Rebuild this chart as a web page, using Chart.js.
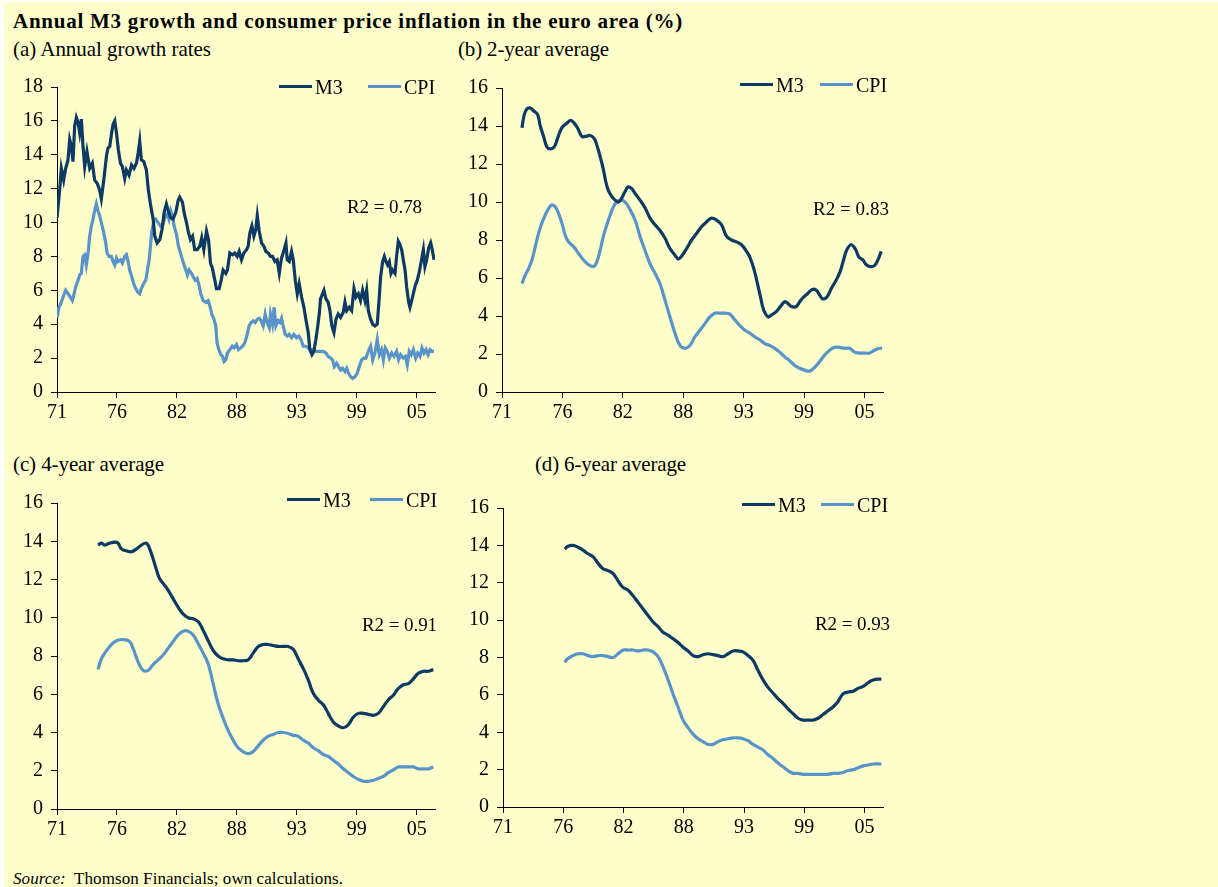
<!DOCTYPE html>
<html><head><meta charset="utf-8">
<script src="https://cdn.jsdelivr.net/npm/chart.js@4.4.1/dist/chart.umd.min.js"></script>
<style>
html,body{margin:0;padding:0;background:#fff;width:1218px;height:887px;overflow:hidden;}
#page{position:absolute;left:4px;top:2px;width:1214px;height:885px;background:#FFFFCC;}
.t{position:absolute;white-space:nowrap;font-family:"Liberation Serif","Times New Roman",serif;color:#000;line-height:1;}
.sw{position:absolute;height:3px;}
canvas{position:absolute;}
</style></head><body>
<div id="page"></div>
<script>
// ---------- data ----------
const tickYears = [1971, 1976.667, 1982.333, 1988, 1993.667, 1999.333, 2005];
const tickLabels = ['71','76','82','88','93','99','05'];
const seriesNames = ['M3','CPI'];
const r2Labels = ['R2 = 0.78','R2 = 0.83','R2 = 0.91','R2 = 0.93'];
const panelTitles = ['(a) Annual growth rates','(b) 2-year average','(c) 4-year average','(d) 6-year average'];

// (a) annual growth rates [decimal year, %]
const m3A = [[1971.00,10.3],[1971.25,11.9],[1971.41,13.2],[1971.63,12.5],[1971.82,13.2],[1972.04,13.7],[1972.20,14.9],[1972.36,14.5],[1972.51,13.6],[1972.67,15.7],[1972.83,16.2],[1972.99,15.9],[1973.14,15.3],[1973.30,16.1],[1973.46,14.5],[1973.62,13.3],[1973.83,14.2],[1974.09,13.2],[1974.34,13.5],[1974.56,12.5],[1974.81,12.3],[1975.04,11.9],[1975.19,11.4],[1975.42,12.5],[1975.67,13.9],[1975.82,14.4],[1975.99,14.5],[1976.14,15.2],[1976.30,15.8],[1976.46,16.0],[1976.62,15.3],[1976.80,14.3],[1977.00,13.5],[1977.18,13.3],[1977.40,12.6],[1977.56,13.1],[1977.81,12.8],[1978.04,13.4],[1978.28,13.2],[1978.51,13.5],[1978.67,14.1],[1978.82,14.8],[1978.97,13.7],[1979.20,13.6],[1979.45,13.1],[1979.64,11.9],[1979.83,11.1],[1980.09,10.2],[1980.24,9.2],[1980.46,8.8],[1980.72,9.0],[1980.93,9.6],[1981.13,10.6],[1981.34,11.1],[1981.56,10.6],[1981.73,10.3],[1981.97,10.2],[1982.23,10.6],[1982.45,11.3],[1982.60,11.5],[1982.86,11.2],[1983.01,10.6],[1983.24,10.0],[1983.43,9.4],[1983.61,9.0],[1983.81,9.2],[1984.02,8.4],[1984.25,8.4],[1984.50,8.6],[1984.68,9.1],[1984.88,8.4],[1985.13,9.5],[1985.32,9.0],[1985.51,7.6],[1985.69,7.3],[1985.92,6.6],[1986.07,6.1],[1986.33,6.1],[1986.52,6.6],[1986.70,7.2],[1986.96,7.0],[1987.11,7.2],[1987.34,8.2],[1987.59,8.1],[1987.80,8.2],[1988.03,8.0],[1988.22,8.3],[1988.44,7.8],[1988.66,8.2],[1988.92,8.4],[1989.07,8.6],[1989.23,9.4],[1989.42,9.8],[1989.61,9.2],[1989.79,9.6],[1989.93,10.4],[1990.11,9.5],[1990.33,8.8],[1990.56,8.6],[1990.74,8.3],[1990.97,8.2],[1991.18,8.0],[1991.37,8.0],[1991.60,7.7],[1991.81,7.8],[1992.01,7.0],[1992.22,7.9],[1992.38,8.2],[1992.64,8.8],[1992.76,7.8],[1992.95,7.7],[1993.17,8.3],[1993.33,7.8],[1993.52,6.6],[1993.71,5.8],[1993.89,6.4],[1994.12,5.6],[1994.34,5.0],[1994.52,4.3],[1994.75,3.5],[1994.90,2.5],[1995.10,2.2],[1995.28,2.4],[1995.47,3.1],[1995.63,3.8],[1995.79,4.6],[1995.91,5.5],[1996.10,5.8],[1996.23,6.0],[1996.42,5.5],[1996.63,5.3],[1996.80,4.8],[1996.98,3.9],[1997.18,3.5],[1997.37,4.3],[1997.58,4.6],[1997.81,4.4],[1998.06,4.7],[1998.22,5.3],[1998.38,4.8],[1998.62,5.0],[1998.85,4.8],[1999.07,6.1],[1999.26,5.6],[1999.48,5.8],[1999.69,5.4],[1999.89,6.0],[2000.11,5.4],[2000.27,6.0],[2000.43,4.8],[2000.64,4.3],[2000.84,4.0],[2001.05,3.9],[2001.27,4.0],[2001.44,5.4],[2001.59,6.8],[2001.78,7.7],[2001.94,8.0],[2002.09,7.7],[2002.25,7.5],[2002.41,7.7],[2002.57,7.0],[2002.72,7.2],[2002.95,7.0],[2003.10,8.0],[2003.26,8.9],[2003.42,8.7],[2003.58,8.4],[2003.73,7.8],[2003.90,7.2],[2004.05,6.2],[2004.24,5.3],[2004.36,5.0],[2004.53,5.4],[2004.68,5.8],[2004.87,6.3],[2005.06,6.6],[2005.25,7.1],[2005.43,7.7],[2005.63,8.4],[2005.78,7.4],[2005.94,7.8],[2006.13,8.5],[2006.32,8.8],[2006.47,8.4],[2006.64,7.8]];
const cpiA = [[1971.00,4.35],[1971.19,5.0],[1971.41,5.3],[1971.63,5.7],[1971.82,6.0],[1972.04,5.8],[1972.26,5.6],[1972.45,5.4],[1972.58,5.7],[1972.76,6.2],[1972.99,6.6],[1973.14,6.9],[1973.30,7.0],[1973.46,8.0],[1973.62,8.1],[1973.77,7.5],[1973.94,8.2],[1974.09,9.2],[1974.25,9.8],[1974.41,10.2],[1974.56,10.7],[1974.72,11.1],[1974.87,10.7],[1975.04,10.4],[1975.19,10.0],[1975.42,9.4],[1975.61,8.8],[1975.73,8.2],[1975.92,8.0],[1976.14,8.0],[1976.30,7.7],[1976.46,7.5],[1976.62,7.9],[1976.77,7.7],[1977.00,7.8],[1977.18,7.6],[1977.40,8.0],[1977.56,8.1],[1977.72,7.7],[1977.87,7.2],[1978.07,6.8],[1978.25,6.4],[1978.44,6.1],[1978.63,5.9],[1978.82,5.8],[1978.97,6.1],[1979.20,6.4],[1979.39,6.6],[1979.55,7.2],[1979.71,7.8],[1979.83,8.6],[1979.95,9.4],[1980.15,10.1],[1980.33,10.2],[1980.55,10.0],[1980.78,9.8],[1981.02,9.9],[1981.25,10.4],[1981.44,10.5],[1981.59,10.2],[1981.76,10.7],[1981.91,10.4],[1982.07,9.8],[1982.29,9.3],[1982.48,8.6],[1982.67,8.2],[1982.86,7.8],[1983.01,7.5],[1983.18,7.2],[1983.33,6.9],[1983.49,7.2],[1983.71,7.0],[1983.87,6.8],[1984.05,6.6],[1984.25,6.7],[1984.43,6.3],[1984.59,5.8],[1984.82,5.4],[1985.06,5.3],[1985.29,5.4],[1985.44,5.1],[1985.63,4.6],[1985.83,4.3],[1986.01,3.9],[1986.13,2.9],[1986.30,2.5],[1986.49,2.2],[1986.64,2.1],[1986.80,1.8],[1986.96,1.9],[1987.11,2.3],[1987.34,2.5],[1987.56,2.7],[1987.74,2.6],[1987.97,2.8],[1988.15,2.5],[1988.35,2.6],[1988.54,2.7],[1988.75,2.9],[1988.98,3.4],[1989.16,3.9],[1989.35,4.1],[1989.55,4.2],[1989.73,4.1],[1989.93,4.3],[1990.11,4.35],[1990.30,4.2],[1990.49,3.9],[1990.68,4.6],[1990.86,4.1],[1991.06,3.8],[1991.18,4.6],[1991.37,4.0],[1991.53,5.0],[1991.69,3.9],[1991.90,4.2],[1992.07,4.1],[1992.22,4.35],[1992.38,3.9],[1992.57,3.4],[1992.76,3.3],[1992.95,3.4],[1993.17,3.2],[1993.39,3.4],[1993.65,3.2],[1993.86,3.3],[1994.06,3.1],[1994.27,2.7],[1994.52,2.7],[1994.75,2.6],[1994.96,2.5],[1995.22,2.5],[1995.47,2.4],[1995.70,2.4],[1995.91,2.4],[1996.17,2.4],[1996.42,2.3],[1996.63,2.1],[1996.86,2.0],[1997.05,1.9],[1997.21,1.5],[1997.43,1.7],[1997.61,1.5],[1997.81,1.3],[1997.99,1.4],[1998.22,1.2],[1998.38,1.4],[1998.56,1.1],[1998.76,0.9],[1998.94,0.8],[1999.16,0.9],[1999.38,1.1],[1999.57,1.5],[1999.80,1.9],[2000.01,2.0],[2000.20,2.0],[2000.43,2.4],[2000.64,2.7],[2000.84,1.9],[2001.05,2.3],[2001.27,3.1],[2001.47,2.2],[2001.68,2.5],[2001.85,1.9],[2002.03,2.6],[2002.22,2.4],[2002.41,2.0],[2002.63,2.3],[2002.86,2.1],[2003.10,2.4],[2003.29,1.9],[2003.48,2.2],[2003.73,2.0],[2003.93,2.1],[2004.11,1.6],[2004.30,2.4],[2004.49,2.2],[2004.68,2.5],[2004.90,2.0],[2005.09,2.3],[2005.31,2.1],[2005.50,2.6],[2005.69,2.3],[2005.88,2.5],[2006.07,2.2],[2006.26,2.5],[2006.44,2.4],[2006.64,2.4]];

// (b) 2-year average
const m3B = [[1972.87,13.9],[1973.09,14.6],[1973.34,14.9],[1973.65,14.95],[1973.96,14.8],[1974.34,14.6],[1974.59,14.0],[1974.90,13.45],[1975.21,12.9],[1975.52,12.8],[1975.90,12.9],[1976.21,13.35],[1976.61,13.9],[1977.08,14.15],[1977.46,14.3],[1977.77,14.15],[1978.08,13.9],[1978.49,13.45],[1978.80,13.45],[1979.27,13.5],[1979.64,13.35],[1979.89,13.0],[1980.20,12.4],[1980.51,11.7],[1980.76,11.0],[1980.98,10.6],[1981.29,10.3],[1981.61,10.1],[1981.92,10.0],[1982.23,10.2],[1982.54,10.55],[1982.85,10.8],[1983.16,10.7],[1983.48,10.45],[1983.94,10.1],[1984.41,9.7],[1984.88,9.15],[1985.35,8.8],[1985.82,8.5],[1986.28,8.1],[1986.75,7.55],[1987.22,7.2],[1987.53,7.0],[1987.84,7.15],[1988.31,7.55],[1988.78,8.0],[1989.25,8.35],[1989.71,8.7],[1990.18,8.95],[1990.65,9.15],[1991.12,9.05],[1991.59,8.8],[1992.05,8.2],[1992.52,8.0],[1992.99,7.9],[1993.46,7.75],[1993.93,7.4],[1994.24,7.1],[1994.61,6.5],[1994.92,5.8],[1995.24,5.0],[1995.55,4.3],[1995.95,3.95],[1996.26,4.05],[1996.67,4.2],[1997.11,4.5],[1997.51,4.75],[1997.83,4.65],[1998.14,4.5],[1998.60,4.5],[1998.92,4.75],[1999.29,5.0],[1999.70,5.2],[2000.10,5.4],[2000.48,5.35],[2000.79,5.1],[2001.10,4.9],[2001.47,5.0],[2001.88,5.45],[2002.35,5.9],[2002.72,6.35],[2003.03,6.95],[2003.35,7.5],[2003.75,7.75],[2004.16,7.5],[2004.47,7.1],[2004.84,6.95],[2005.16,6.7],[2005.53,6.6],[2005.93,6.65],[2006.25,6.95],[2006.56,7.4]];
const cpiB = [[1972.87,5.7],[1973.18,6.15],[1973.50,6.5],[1973.81,6.95],[1974.12,7.65],[1974.43,8.35],[1974.74,8.9],[1975.05,9.3],[1975.37,9.65],[1975.68,9.85],[1975.99,9.75],[1976.30,9.4],[1976.61,8.9],[1976.93,8.25],[1977.24,7.9],[1977.71,7.65],[1978.17,7.3],[1978.64,6.95],[1979.11,6.7],[1979.58,6.6],[1979.89,6.85],[1980.20,7.45],[1980.51,8.2],[1980.83,8.8],[1981.14,9.3],[1981.45,9.75],[1981.76,10.0],[1982.14,10.1],[1982.54,10.0],[1983.01,9.6],[1983.48,9.05],[1983.94,8.2],[1984.41,7.45],[1984.88,6.75],[1985.35,6.25],[1985.82,5.7],[1986.28,4.85],[1986.75,3.95],[1987.22,3.1],[1987.69,2.45],[1988.15,2.3],[1988.62,2.45],[1989.09,2.9],[1989.56,3.25],[1990.03,3.6],[1990.49,3.95],[1990.96,4.15],[1991.43,4.15],[1991.90,4.15],[1992.37,4.1],[1992.83,3.8],[1993.30,3.5],[1993.77,3.25],[1994.24,3.1],[1994.71,2.9],[1995.17,2.75],[1995.64,2.55],[1996.11,2.45],[1996.58,2.3],[1997.04,2.1],[1997.51,1.85],[1997.98,1.65],[1998.45,1.4],[1998.92,1.25],[1999.38,1.15],[1999.85,1.1],[2000.32,1.3],[2000.79,1.6],[2001.26,1.95],[2001.72,2.2],[2002.19,2.35],[2002.66,2.35],[2003.13,2.3],[2003.59,2.3],[2004.06,2.1],[2004.53,2.05],[2005.00,2.05],[2005.47,2.05],[2005.93,2.2],[2006.40,2.3],[2006.65,2.3]];

// (c) 4-year average
const m3C = [[1974.88,13.8],[1975.19,13.9],[1975.51,13.8],[1975.98,13.9],[1976.46,13.95],[1976.77,13.9],[1977.09,13.6],[1977.56,13.5],[1978.03,13.45],[1978.51,13.6],[1978.98,13.8],[1979.45,13.9],[1979.83,13.5],[1980.24,12.8],[1980.65,12.1],[1981.03,11.8],[1981.50,11.45],[1981.97,11.0],[1982.45,10.55],[1982.92,10.2],[1983.39,10.0],[1983.87,9.95],[1984.34,9.8],[1984.81,9.35],[1985.29,8.8],[1985.76,8.3],[1986.23,8.0],[1986.70,7.85],[1987.18,7.8],[1987.65,7.8],[1988.12,7.75],[1988.60,7.75],[1989.07,7.8],[1989.54,8.15],[1990.02,8.5],[1990.49,8.6],[1990.96,8.6],[1991.44,8.55],[1991.91,8.5],[1992.38,8.5],[1992.85,8.5],[1993.33,8.35],[1993.80,7.85],[1994.27,7.35],[1994.75,6.75],[1995.22,6.05],[1995.69,5.7],[1996.17,5.45],[1996.64,5.0],[1997.11,4.55],[1997.58,4.35],[1998.06,4.25],[1998.53,4.4],[1999.00,4.8],[1999.48,5.0],[1999.95,5.0],[2000.42,4.95],[2000.90,4.9],[2001.37,5.0],[2001.84,5.35],[2002.31,5.7],[2002.79,5.95],[2003.26,6.3],[2003.73,6.5],[2004.21,6.55],[2004.68,6.8],[2005.15,7.1],[2005.63,7.2],[2006.10,7.2],[2006.57,7.3]];
const cpiC = [[1974.88,7.3],[1975.19,7.85],[1975.51,8.15],[1975.98,8.5],[1976.46,8.75],[1976.93,8.85],[1977.40,8.85],[1977.87,8.75],[1978.19,8.4],[1978.66,7.7],[1979.14,7.25],[1979.61,7.25],[1980.08,7.55],[1980.56,7.8],[1981.03,8.05],[1981.50,8.4],[1981.97,8.75],[1982.45,9.1],[1982.92,9.3],[1983.39,9.3],[1983.87,9.1],[1984.34,8.65],[1984.81,8.15],[1985.29,7.6],[1985.76,6.55],[1986.23,5.5],[1986.70,4.75],[1987.18,4.1],[1987.65,3.6],[1988.12,3.2],[1988.60,3.0],[1989.07,2.9],[1989.54,3.0],[1990.02,3.3],[1990.49,3.6],[1990.96,3.8],[1991.44,3.9],[1991.91,4.0],[1992.38,4.0],[1992.85,3.95],[1993.33,3.85],[1993.80,3.8],[1994.27,3.6],[1994.75,3.45],[1995.22,3.2],[1995.69,3.05],[1996.17,2.85],[1996.64,2.75],[1997.11,2.55],[1997.58,2.35],[1998.06,2.1],[1998.53,1.9],[1999.00,1.7],[1999.48,1.55],[1999.95,1.45],[2000.42,1.45],[2000.90,1.5],[2001.37,1.6],[2001.84,1.7],[2002.31,1.9],[2002.79,2.05],[2003.26,2.2],[2003.73,2.2],[2004.21,2.2],[2004.68,2.2],[2005.15,2.1],[2005.63,2.1],[2006.10,2.1],[2006.57,2.2]];

// (d) 6-year average
const timeD = [1976.80,1977.11,1977.58,1978.05,1978.52,1978.99,1979.46,1979.93,1980.40,1980.87,1981.34,1981.82,1982.29,1982.76,1983.23,1983.70,1984.17,1984.64,1985.11,1985.58,1986.05,1986.52,1986.99,1987.46,1987.93,1988.40,1988.87,1989.34,1989.81,1990.28,1990.75,1991.22,1991.69,1992.16,1992.63,1993.10,1993.57,1994.04,1994.51,1994.98,1995.45,1995.92,1996.39,1996.86,1997.33,1997.80,1998.27,1998.74,1999.21,1999.68,2000.15,2000.62,2001.09,2001.56,2002.03,2002.50,2002.97,2003.45,2003.92,2004.39,2004.86,2005.33,2005.80,2006.58];
const m3D = [13.8,13.95,14.0,13.9,13.75,13.55,13.4,13.05,12.75,12.65,12.5,12.1,11.75,11.6,11.3,10.95,10.6,10.25,9.9,9.65,9.35,9.2,9.0,8.8,8.55,8.35,8.1,8.05,8.15,8.2,8.15,8.1,8.05,8.2,8.35,8.35,8.3,8.1,7.85,7.3,6.8,6.4,6.1,5.8,5.55,5.25,5.0,4.75,4.65,4.65,4.65,4.75,4.95,5.15,5.35,5.65,6.05,6.15,6.2,6.35,6.45,6.65,6.8,6.85];
const cpiD = [7.75,7.95,8.1,8.2,8.2,8.1,8.05,8.1,8.1,8.05,8.0,8.2,8.4,8.4,8.4,8.35,8.4,8.4,8.3,8.05,7.5,6.8,6.05,5.35,4.65,4.25,3.9,3.65,3.5,3.35,3.35,3.5,3.6,3.65,3.7,3.7,3.65,3.55,3.35,3.2,3.05,2.8,2.6,2.35,2.15,1.95,1.8,1.8,1.75,1.75,1.75,1.75,1.75,1.75,1.8,1.8,1.85,1.95,2.0,2.1,2.2,2.25,2.3,2.3];

// ---------- styling / layout ----------
const FONT = '"Liberation Serif", "Times New Roman", serif';
const M3_COLOR = '#0D3A64';
const CPI_COLOR = '#5893CA';
const X_MIN = 1971, X_MAX = 2006.73;

function addText(html, x, baseline, size, extra, targetWidth) {
  const d = document.createElement('div');
  d.className = 't';
  d.innerHTML = html;
  d.style.left = x + 'px';
  d.style.top = (baseline - 0.8375 * size) + 'px';
  d.style.fontSize = size + 'px';
  if (extra) Object.assign(d.style, extra);
  document.body.appendChild(d);
  if (targetWidth) {
    const w = d.getBoundingClientRect().width;
    const n = d.textContent.length;
    if (n > 1) d.style.letterSpacing = ((targetWidth - w) / n) + 'px';
  }
  return d;
}

function makeChart(area, yMax, m3, cpi, tension) {
  const W_Y = 50, H_X = 40, PT = 24, PR = 12;
  const cv = document.createElement('canvas');
  const left = area.l - W_Y, top = area.t - PT;
  const w = area.r + PR - left, h = area.b + H_X - top;
  cv.width = w; cv.height = h;
  cv.style.left = left + 'px'; cv.style.top = top + 'px';
  cv.style.width = w + 'px'; cv.style.height = h + 'px';
  document.body.appendChild(cv);
  const axisCommon = {
    grid: { drawOnChartArea: false, drawTicks: true, tickLength: 6, color: '#000', lineWidth: 1 },
    border: { display: true, color: '#000', width: 1 }
  };
  return new Chart(cv, {
    type: 'line',
    data: { datasets: [
      { label: seriesNames[0], data: m3.map(p => ({ x: p[0], y: p[1] })), borderColor: M3_COLOR, borderWidth: 3.2, pointRadius: 0, tension: tension, fill: false },
      { label: seriesNames[1], data: cpi.map(p => ({ x: p[0], y: p[1] })), borderColor: CPI_COLOR, borderWidth: 3.2, pointRadius: 0, tension: tension, fill: false }
    ]},
    options: {
      responsive: false, animation: false, devicePixelRatio: 1,
      layout: { padding: { top: PT, right: PR, left: 0, bottom: 0 } },
      plugins: { legend: { display: false }, tooltip: { enabled: false } },
      scales: {
        x: Object.assign({
          type: 'linear', min: X_MIN, max: X_MAX,
          afterFit: s => { s.height = H_X; },
          afterBuildTicks: s => { s.ticks = tickYears.map(v => ({ value: v })); },
          ticks: { callback: (v, i) => tickLabels[i], autoSkip: false, maxRotation: 0, padding: 3, color: '#000', font: { family: FONT, size: 20 } }
        }, axisCommon),
        y: Object.assign({
          min: 0, max: yMax,
          afterFit: s => { s.width = W_Y; },
          ticks: { stepSize: 2, padding: 8, color: '#000', font: { family: FONT, size: 20 } }
        }, axisCommon)
      }
    }
  });
}

function addLegend(chart, starts, lineY) {
  chart.data.datasets.forEach((ds, i) => {
    const sw = document.createElement('div');
    sw.className = 'sw';
    sw.style.left = starts[i] + 'px';
    sw.style.top = (lineY - 1.5) + 'px';
    sw.style.width = '33px';
    sw.style.background = ds.borderColor;
    document.body.appendChild(sw);
    addText(ds.label, starts[i] + 36, lineY + 7, 20);
  });
}

// ---------- titles ----------
addText('Annual M3 growth and consumer price inflation in the euro area (%)', 13, 28.3, 21, { fontWeight: 'bold' }, 670);
addText(panelTitles[0], 13, 56.7, 21, null, 198);
addText(panelTitles[1], 458, 56.7, 21, null, 151);
addText(panelTitles[2], 13, 471.7, 21, null, 151);
addText(panelTitles[3], 535, 471.7, 21, null, 151);
addText('<i>Source:</i>&nbsp; Thomson Financials; own calculations.', 13, 884, 17, null, 330);

// ---------- charts ----------
const chA = makeChart({ l: 57, r: 435, t: 87, b: 392 }, 18, m3A, cpiA, 0);
const chB = makeChart({ l: 502, r: 883, t: 88, b: 392 }, 16, m3B, cpiB, 0.4);
const chC = makeChart({ l: 57, r: 435, t: 503, b: 809 }, 16, m3C, cpiC, 0.4);
const chD = makeChart({ l: 503, r: 883, t: 508, b: 807 }, 16, timeD.map((t, i) => [t, m3D[i]]), timeD.map((t, i) => [t, cpiD[i]]), 0.4);

addLegend(chA, [279, 368], 86.7);
addLegend(chB, [740, 820], 84.3);
addLegend(chC, [287, 370], 499.3);
addLegend(chD, [742, 821], 504.3);

addText(r2Labels[0], 347, 213.3, 19, null, 75);
addText(r2Labels[1], 813, 215, 19, null, 76);
addText(r2Labels[2], 362, 630.7, 19, null, 75);
addText(r2Labels[3], 815, 630, 19, null, 75);
</script>
</body></html>
